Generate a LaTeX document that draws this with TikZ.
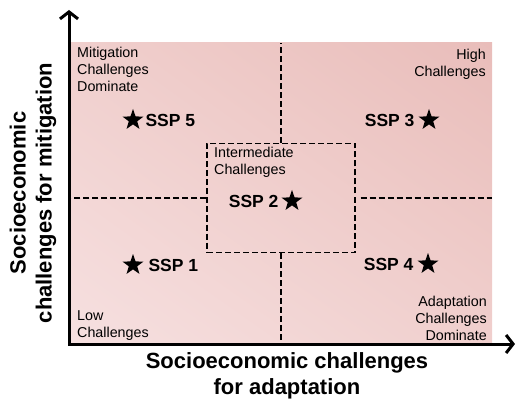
\documentclass[tikz,border=0pt]{standalone}
\usepackage{fontspec}
\setmainfont{Liberation Sans}
\usetikzlibrary{positioning,shapes.geometric,arrows.meta,shadings}
\definecolor{shadelow}{RGB}{246,224,224}
\definecolor{shademid}{RGB}{240,207,205}
\definecolor{shadehigh}{RGB}{233,189,186}
\tikzset{
    axis-line/.style = {line width=3pt, {Straight Barb[length=7pt,width=18pt]}-{Straight Barb[length=7pt,width=18pt]}},
    split-line/.style = {line width=1.3pt, dash pattern=on 6pt off 3pt},
    corner-text/.style = {inner sep=0pt, font=\fontsize{14.3}{17}\selectfont},
    ssp-star/.style = {star, star points=5, star point ratio=2.5, fill=black, minimum size=22pt, inner sep=0pt},
    ssp-text/.style = {inner sep=0pt, font=\fontsize{17.5}{20}\selectfont\bfseries},
    axis-title/.style = {align=center, inner sep=0pt, font=\fontsize{22}{26}\selectfont\bfseries},
}
\begin{document}
\begin{tikzpicture}[x=1pt,y=-1pt]
\useasboundingbox (0,0) rectangle (515,404);
% background
\shade[lower left=shadelow, upper right=shadehigh, upper left=shademid, lower right=shademid] (70,43) rectangle (492,343);
\coordinate (origin) at (69,344);
\coordinate (ytop) at (69,10);
\coordinate (xend) at (515,344);
\coordinate (top) at (281,43);
\coordinate (bot) at (281,343);
\coordinate (lft) at (70,198);
\coordinate (rgt) at (492,198);
% middle box and dashed split
\node[draw, split-line, minimum width=148pt, minimum height=109pt] (mid) at (281,198) {};
\draw[split-line] (mid.north) -- (top);
\draw[split-line] (mid.south) -- (bot);
\draw[split-line] (mid.west) -- (lft);
\draw[split-line] ([xshift=5pt]mid.east) -- (rgt);
\draw[axis-line] (ytop) -- (origin) -- (xend);
% corner texts
\node[corner-text, anchor=north west, align=left] (mitig) at (77,47) {Mitigation\\Challenges\\Dominate};
\node[corner-text, anchor=north east, align=right] (high) at (486,49) {High\\Challenges};
\node[corner-text, anchor=north west, align=left] (inter) at (214,147) {Intermediate\\Challenges};
\node[corner-text, anchor=south west, align=left] (low) at (77,341) {Low\\Challenges};
\node[corner-text, anchor=south east, align=right] (adapt) at (487,341) {Adaptation\\Challenges\\Dominate};
% scenarios
\node[ssp-star] (s5) at (133,120) {};
\node[ssp-text, right=6pt of s5] (ssp5) {SSP 5};
\node[ssp-star] (s3) at (429,120) {};
\node[ssp-text, left=8pt of s3] (ssp3) {SSP 3};
\node[ssp-star] (s2) at (292,201) {};
\node[ssp-text, left=7pt of s2] (ssp2) {SSP 2};
\node[ssp-star] (s1) at (133,265) {};
\node[ssp-text, right=9pt of s1] (ssp1) {SSP 1};
\node[ssp-star] (s4) at (428,264) {};
\node[ssp-text, left=8pt of s4] (ssp4) {SSP 4};
% axis titles
\node[axis-title] (xtitle) at (287,376) {Socioeconomic challenges\\for adaptation};
\node[axis-title, rotate=90] (ytitle) at (33,193) {Socioeconomic\\challenges for mitigation};
\end{tikzpicture}
\end{document}
